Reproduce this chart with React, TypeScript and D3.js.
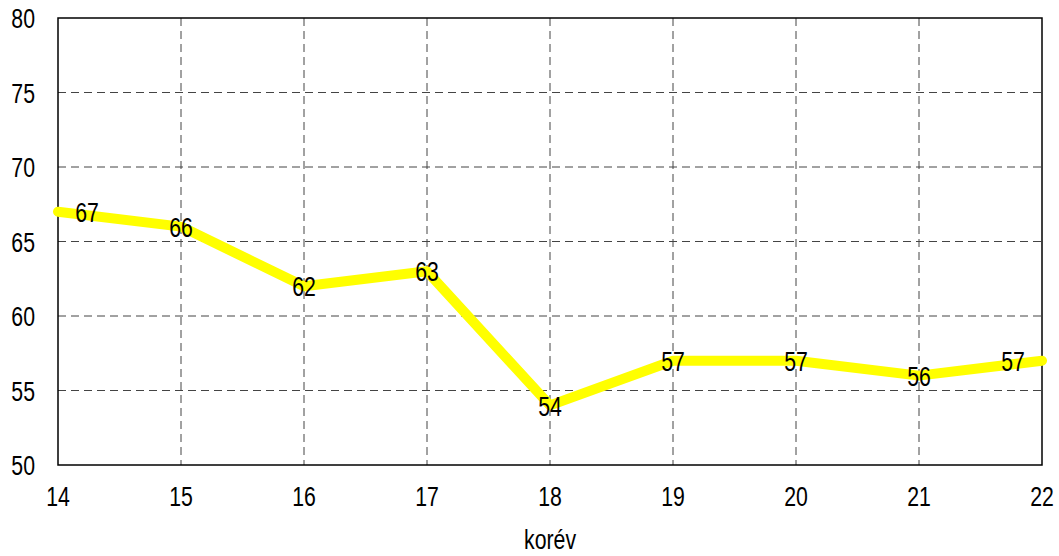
import React from "react";
import * as d3 from "d3";

const years = [14, 15, 16, 17, 18, 19, 20, 21, 22];
const values = [67, 66, 62, 63, 54, 57, 57, 56, 57];
const yTicks = [50, 55, 60, 65, 70, 75, 80];
const xTitle = "korév";

const W = 1059, H = 556;
const L = 58, R = 1042, T = 18, B = 465;
const FONT = "'Liberation Sans', Arial, sans-serif";
const SX = 0.76;

function T2({ x, y, anchor, size, children }: any) {
  return (
    <text
      transform={`translate(${x},${y}) scale(${SX},1)`}
      textAnchor={anchor}
      dominantBaseline="central"
      fontFamily={FONT}
      fontSize={size}
      fill="#000"
    >
      {children}
    </text>
  );
}

export default function App() {
  const x = d3.scaleLinear().domain([14, 22]).range([L, R]);
  const y = d3.scaleLinear().domain([50, 80]).range([B, T]);
  const pts = years.map((yr, i) => [x(yr), y(values[i])] as [number, number]);
  const line = d3.line()(pts) || "";
  return (
    <svg width={W} height={H} style={{ position: "absolute", left: 0, top: 0, background: "#fff" }}>
      <rect x={0} y={0} width={W} height={H} fill="#fff" />
      {yTicks.slice(1, -1).map((t) => (
        <line key={"h" + t} x1={L} x2={R} y1={y(t)} y2={y(t)} stroke="#444" strokeWidth={1} strokeDasharray="8,5" />
      ))}
      {years.slice(1, -1).map((t) => (
        <line key={"v" + t} x1={x(t)} x2={x(t)} y1={T} y2={B} stroke="#444" strokeWidth={1} strokeDasharray="8,5" />
      ))}
      <rect x={L} y={T} width={R - L} height={B - T} fill="none" stroke="#000" strokeWidth={1.5} />
      {yTicks.map((t) => (
        <T2 key={"yl" + t} x={35} y={y(t)} anchor="end" size={28}>{t}</T2>
      ))}
      {years.map((t) => (
        <T2 key={"xl" + t} x={x(t)} y={496} anchor="middle" size={28}>{t}</T2>
      ))}
      <T2 x={(L + R) / 2} y={539} anchor="middle" size={28}>{xTitle}</T2>
      <path d={line} fill="none" stroke="#ffff00" strokeWidth={10} strokeLinecap="round" strokeLinejoin="round" />
      {pts.map(([px, py], i) => {
        let dx = 0;
        if (i === 0) dx = 29;
        if (i === pts.length - 1) dx = -29;
        return (
          <T2 key={"lab" + i} x={px + dx} y={py} anchor="middle" size={28}>{values[i]}</T2>
        );
      })}
    </svg>
  );
}
